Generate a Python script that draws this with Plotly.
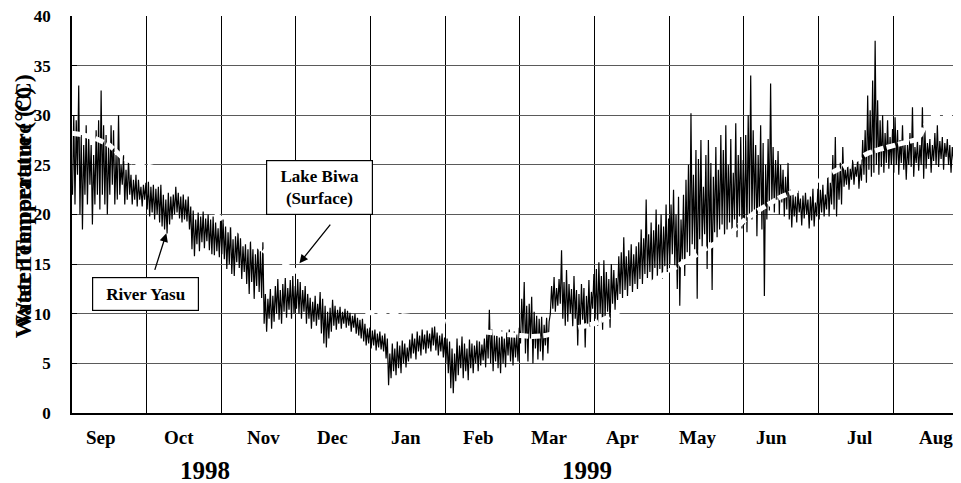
import plotly.graph_objects as go

# ---------------- data ----------------
months = ["Sep", "Oct", "Nov", "Dec", "Jan", "Feb", "Mar", "Apr", "May", "Jun", "Jul", "Aug"]
years = ["1998", "1999"]

# River Yasu: estimated daily minimum / maximum (day 0 = 1 Sep 1998)
river_low = [
    # Sep (0-29)
    22, 21, 24, 20, 18.5, 22, 21, 23, 19, 21, 22, 20.5, 22, 21, 20, 22, 23, 21, 21.5, 22,
    23, 21, 21.5, 22, 21, 21.5, 20.8, 21.5, 20.8, 21.5,
    # Oct (30-59)
    20.5, 19.8, 20.2, 19.5, 20, 19.2, 18.8, 18.5, 18.1, 19, 19.5, 20, 20.2, 19.6, 19.2, 19.5,
    19.3, 18.5, 16.5, 15.8, 17, 16.3, 17.2, 16.6, 17.3, 16.4, 16, 15.9, 16.3, 15.7,
    # Nov (60-89)
    16, 15.5, 14.5, 15, 14, 13.8, 15.2, 14.6, 13.5, 14.2, 13, 12, 13.2, 11.5, 12.8, 12.2,
    11.6, 9, 8.2, 9.5, 8.5, 9.2, 10, 9.4, 9, 10.2, 9.6, 10.4, 9.5, 10,
    # Dec (90-119)
    10.5, 10, 9.5, 10.2, 9, 9.5, 8.5, 9.2, 8.8, 9.4, 8, 7, 6.6, 7.5, 8.2, 8.8, 8.4, 9, 8.5,
    9, 8.6, 8.8, 8.2, 8.6, 8, 7.8, 7.5, 7.2, 6.8, 7,
    # Jan (120-149)
    6.5, 6.8, 6.3, 6.6, 6.4, 6.2, 5.5, 2.8, 3.5, 4.2, 3.8, 4.5, 4, 5, 4.6, 5.2, 5.5, 6, 5.4,
    6.2, 5.8, 6.4, 6, 6.5, 6.2, 6.8, 6.3, 5.8, 6.2, 5.6,
    # Feb (150-179)
    5, 4, 2.5, 2, 3.2, 3.8, 4.5, 3.5, 4.2, 3.3, 4.5, 4, 5, 4.2, 4.8, 5.3, 4.6, 5.5, 5, 4.2,
    5.2, 4.5, 4, 5, 4.6, 5.8, 5.2, 4.8, 5.6, 5.2,
    # Mar (180-209)
    7, 8, 6, 5.2, 7.5, 5, 6.5, 5.4, 6.2, 5.3, 6.8, 6, 10, 10.5, 10.2, 10.8, 11, 9.5, 8.8,
    9.2, 10, 8.7, 9.5, 6.8, 8.5, 9.4, 6.6, 9, 8.7, 10.5,
    # Apr (210-239)
    9.5, 8.8, 10, 8.4, 9.6, 10.2, 8.6, 11, 10.4, 11.4, 12, 11.6, 12.4, 11.8, 12.8, 12.2, 13,
    12.5, 13.5, 13, 14, 13.6, 14.2, 13.2, 14.6, 13.8, 14.5, 13.5, 14.8, 14.2,
    # May (240-269)
    15, 16, 14.8, 12.5, 10.8, 15.5, 13.8, 16.2, 15.8, 17, 16.5, 11.5, 17.5, 16.8, 18, 14.5,
    17.2, 12.4, 18.2, 17.7, 18.5, 19, 17.8, 18.5, 19.2, 18, 19.5, 17.7, 19.8, 18.6,
    # Jun (270-299)
    19, 18.2, 20, 19.5, 20.5, 17.8, 20.2, 18.5, 11.8, 19.5, 20.4, 21, 20.2, 21.5, 20, 21.2,
    19.8, 20.5, 19.5, 18.7, 19.8, 19.2, 20.2, 18.9, 19.6, 20, 18.6, 19.4, 18.8, 19.8,
    # Jul (300-329)
    19.5, 20.2, 19.8, 20.5, 19.8, 21, 20.5, 19.8, 21.5, 21, 22.8, 23, 22.5, 23.5, 23, 23.8,
    22.6, 23.4, 24, 23.2, 24.5, 23.8, 24.2, 25, 24, 24.8, 24.2, 25.2, 24.6, 25,
    # Aug (330-357)
    24.2, 25, 24, 25.2, 24.5, 23.5, 25, 24.8, 23.8, 25.2, 24.4, 25, 23.6, 24.6, 25.6, 24.2,
    25.4, 25, 24.8, 25.6, 24.5, 25.8, 25, 24.2, 25.5, 26, 24.8, 25.4,
]
river_high = [
    # Sep
    30, 29.5, 33, 28, 27, 29, 28, 27, 26, 28.5, 29.5, 32.5, 29, 28, 27, 29, 28.5, 26, 30, 25,
    26, 24.5, 25.5, 24, 23.5, 24, 23.5, 22.8, 23, 23.2,
    # Oct
    23.3, 22.8, 23, 22.6, 22.8, 23, 22, 21.5, 22.2, 21.8, 22, 22.8, 22.2, 21.8, 22, 21.5,
    21.8, 20.8, 20.4, 19.5, 20.2, 19.8, 20.3, 19.6, 20, 19.5, 19.8, 19.2, 18.6, 19.4,
    # Nov
    19.5, 18.8, 18.2, 19, 17.5, 17.8, 18.2, 17.6, 16.8, 17, 16.5, 17.4, 16.5, 16, 17, 16.3,
    17.2, 12, 11.5, 12.5, 11.8, 12.8, 13.5, 12.4, 13, 13.6, 12.6, 13.4, 13.8, 12.8,
    # Dec
    13.5, 13.2, 12.4, 12.8, 12, 11.6, 11.2, 11.8, 11, 12.2, 11.5, 10.8, 10.2, 10.6, 11.4,
    10.8, 10.4, 10.7, 10.2, 10.5, 10.3, 10.1, 9.8, 10, 9.6, 9.4, 9.5, 9, 8.5, 8.6,
    # Jan
    8.3, 8.4, 8, 8.2, 7.8, 8, 7.5, 6, 7, 6.5, 7.2, 6.8, 7.3, 7, 6.6, 7.4, 8, 7.5, 8.2, 7.8,
    8.4, 7.9, 8.3, 8, 8.6, 8.7, 8.1, 7.8, 8, 7.6,
    # Feb
    7.5, 7.2, 6.5, 6, 7.5, 6.8, 7.7, 7, 6.5, 7.4, 7, 6.8, 7.3, 7.2, 6.9, 7.5, 8.2, 10.4, 8.4,
    7.8, 8, 7.6, 8.3, 7.5, 8.1, 8.4, 7.8, 8.2, 7.9, 8.6,
    # Mar
    11.5, 13.2, 10.8, 11, 11.7, 10.2, 9.8, 9.5, 9.7, 8.9, 9.6, 9.2, 12.8, 13.7, 12.6, 13.5,
    16.4, 13.2, 14.4, 13, 12.5, 13.8, 12.4, 12, 13, 12.6, 11.8, 13.4, 12.2, 14,
    # Apr
    14.5, 15.2, 13.8, 15.4, 14.2, 13.5, 15, 14.4, 13.6, 15.8, 16.2, 17.7, 15.8, 16.4, 17, 16,
    16.8, 17.2, 18.5, 17.6, 21.5, 18, 19.2, 18.4, 20.5, 19, 20, 18.8, 21, 19.6,
    # May
    21, 22.5, 20, 21.8, 19.5, 22, 23.5, 25, 30.2, 24, 26.5, 25.6, 27.5, 22.8, 26, 27.5, 25.2,
    23.8, 26.8, 24.5, 28, 26.5, 29, 25, 27.6, 24.2, 29.2, 26, 27.8, 25.5,
    # Jun
    28, 30, 34, 28.5, 27, 26, 29, 27.2, 25, 27.6, 33.2, 26.8, 25.5, 26.4, 25, 24.5, 23.8,
    25.2, 22.5, 22, 21.8, 22.4, 21.6, 21.9, 22.2, 21.5, 21.8, 22.6, 21.2, 22.6,
    # Jul
    22.5, 23, 22, 24, 23.2, 26, 27.8, 24.5, 25.2, 26.8, 24.5, 25, 24.6, 25.5, 24.8, 25.6, 25,
    27.5, 28.5, 32, 30.5, 33.5, 37.5, 31.5, 29.5, 30, 28.2, 29.5, 27.8, 28.6,
    # Aug
    29.8, 28.5, 27.5, 29, 27.2, 27, 28.2, 30.8, 26.8, 27.4, 27, 30.8, 28.5, 27.2, 27.6, 27,
    28.2, 29, 27.4, 27.8, 27.2, 27.6, 27, 26.8, 27.5, 33.3, 26.8, 27.2,
]

# Lake Biwa (surface): estimated values every 5 days
lake_days = list(range(0, 360, 5))
lake_temp = [
    28.2, 28.0, 27.6, 27.0, 25.8, 25.2, 24.9, 24.6, 23.7, 22.6, 21.6, 20.5, 19.6, 18.8,
    17.8, 16.8, 15.8, 15.0, 14.3, 13.4, 12.6, 11.8, 11.1, 10.5, 10.1, 10.0, 9.9, 9.8,
    9.7, 9.5, 9.2, 8.8, 8.5, 8.2, 8.0, 7.9, 7.8, 7.7, 7.8, 8.1, 8.3, 8.6, 9.0, 9.6,
    10.3, 11.3, 12.4, 13.5, 14.3, 15.0, 15.8, 16.6, 17.3, 18.2, 19.4, 20.3, 21.0, 21.8,
    22.3, 22.8, 23.5, 24.2, 24.9, 25.6, 26.2, 26.6, 26.9, 27.2, 27.6, 30.0, 30.0, 30.0,
]

# ---------------- build zig-zag series from daily min/max ----------------
rx, ry = [], []
for d, (lo, hi) in enumerate(zip(river_low, river_high)):
    rx += [d + 0.2, d + 0.7]
    ry += [lo, hi]

FONT = "Liberation Serif, Times New Roman, serif"
fig = go.Figure()
fig.add_trace(go.Scatter(x=rx, y=ry, mode="lines",
                         line=dict(color="black", width=1.2), hoverinfo="skip",
                         showlegend=False))
fig.add_trace(go.Scatter(x=lake_days, y=lake_temp, mode="lines",
                         line=dict(color="white", width=5, dash="9px,3px"),
                         showlegend=False, hoverinfo="skip"))

n_days = 357.2
# the page body adds an 8px offset, so the figure is 8px smaller than the window
fig.update_layout(
    width=953, height=475,
    margin=dict(l=63.5, r=0, t=8, b=70),
    paper_bgcolor="white", plot_bgcolor="white",
    font=dict(family=FONT, color="black"),
    xaxis=dict(range=[0, n_days], tickmode="linear", tick0=0, dtick=30,
               showgrid=True, gridcolor="black", gridwidth=1,
               showticklabels=False, ticks="", zeroline=False,
               showline=True, linecolor="black", linewidth=1.5),
    yaxis=dict(range=[0, 40], tickmode="linear", tick0=0, dtick=5,
               showgrid=True, gridcolor="#5a5a5a", gridwidth=1.3,
               zeroline=False, showline=True, linecolor="black", linewidth=1.5,
               ticks="inside", ticklen=5, tickcolor="black",
               tickfont=dict(family=FONT, size=17, color="black", weight="bold"),
               ticklabelstandoff=16, ticklabeloverflow="allow"),
)

month_label_x = [11.5, 43, 77, 104.5, 134, 163.5, 191.5, 221, 251.5, 281, 316.5, 347]
ann = []
for xv, m in zip(month_label_x, months):
    ann.append(dict(x=xv, y=-0.061, xref="x", yref="paper", text="<b>%s</b>" % m,
                    showarrow=False, xanchor="center", yanchor="middle",
                    font=dict(family=FONT, size=19)))
for xv, yr in zip([53.5, 207], years):
    ann.append(dict(x=xv, y=-0.146, xref="x", yref="paper", text="<b>%s</b>" % yr,
                    showarrow=False, xanchor="center", yanchor="middle",
                    font=dict(family=FONT, size=25)))
# doubled y-axis title (as in the original)
for yv in [0.537, 0.505]:
    ann.append(dict(x=-0.0555, y=yv, xref="paper", yref="paper",
                    text="<b>Water Temperature (°C)</b>", textangle=-90,
                    showarrow=False, xanchor="center", yanchor="middle",
                    font=dict(family=FONT, size=24)))
ann.append(dict(x=99.4, y=22.77, xref="x", yref="y", text="<b>Lake Biwa<br>(Surface)</b>",
                showarrow=False, width=103, height=51, borderpad=1,
                bordercolor="black", borderwidth=1.2, bgcolor="white",
                font=dict(family=FONT, size=17)))
ann.append(dict(x=29.5, y=12.04, xref="x", yref="y", text="<b>River Yasu</b>",
                showarrow=False, width=103, height=30, borderpad=1,
                bordercolor="black", borderwidth=1.2, bgcolor="white",
                font=dict(family=FONT, size=17)))
ann.append(dict(x=91.4, y=15.1, xref="x", yref="y", text="", showarrow=True,
                ax=32, ay=-40, arrowhead=2, arrowsize=1.3, arrowwidth=1.3,
                arrowcolor="black"))
ann.append(dict(x=37.9, y=18.1, xref="x", yref="y", text="", showarrow=True,
                ax=-12, ay=38, arrowhead=2, arrowsize=1.3, arrowwidth=1.3,
                arrowcolor="black"))
fig.update_layout(annotations=ann)

fig.write_html("out.html")
